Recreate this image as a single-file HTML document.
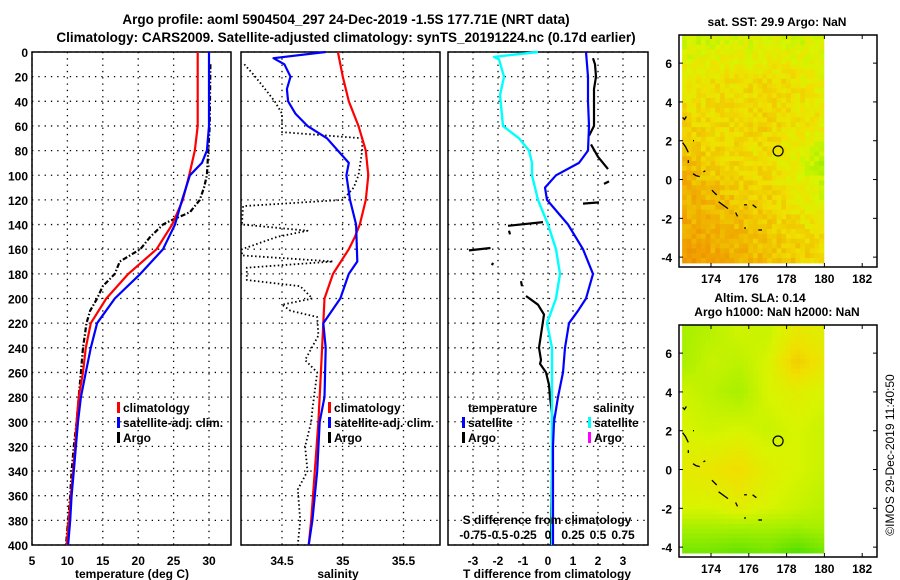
<!DOCTYPE html>
<html><head><meta charset="utf-8"><style>
html,body{margin:0;padding:0;background:#fff;}
svg{display:block;font-family:"Liberation Sans",sans-serif;}
.t{font-weight:bold;font-size:12px;}
.h{font-weight:bold;font-size:13.5px;}
</style></head><body>
<svg id="c" width="900" height="580" viewBox="0 0 900 580" xmlns="http://www.w3.org/2000/svg">
<text class="h" x="346" y="24" text-anchor="middle">Argo profile: aoml 5904504_297 24-Dec-2019 -1.5S 177.71E (NRT data)</text>
<text class="h" x="346" y="42" text-anchor="middle">Climatology: CARS2009. Satellite-adjusted climatology: synTS_20191224.nc (0.17d earlier)</text>
<text class="t" x="777" y="26" text-anchor="middle">sat. SST: 29.9 Argo: NaN</text>
<text class="t" x="760" y="302" text-anchor="middle">Altim. SLA: 0.14</text>
<text class="t" x="777" y="316" text-anchor="middle">Argo h1000: NaN h2000: NaN</text>
<text x="894" y="455" font-size="12" text-anchor="middle" transform="rotate(-90 894 455)">©IMOS 29-Dec-2019 11:40:50</text>
<g id="g"></g>
</svg>
<script>
// ---- data ----
const depthTicks=[0,20,40,60,80,100,120,140,160,180,200,220,240,260,280,300,320,340,360,380,400];
const tTicks=[5,10,15,20,25,30];
const sTicks=[34.5,35,35.5];
const dTicks=[-3,-2,-1,0,1,2,3];
const sdTickLabels=["-0.75","-0.5","-0.25","0","0.25","0.5","0.75"];
const tClimD=[0,60,80,100,120,140,160,180,200,220,240,260,280,300,320,340,360,380,400];
const tClim=[28.4,28.4,28.0,27.2,26.3,24.8,22.6,18.6,15.5,13.3,12.6,12.2,11.6,11.3,11.1,10.8,10.5,10.2,9.9];
const tSatD=[0,60,80,90,100,120,140,160,180,200,220,240,260,280,300,320,340,360,380,400];
const tSat=[30.0,30.0,29.7,29.0,27.3,26.2,25.2,23.5,20.3,16.7,14.2,13.3,12.6,11.9,11.5,11.2,10.9,10.6,10.4,10.1];
const tArgoD=[10,60,100,110,120,130,137,140,150,160,170,180,190,200,210,220,240,260,280,300,320,340,360,380,400];
const tArgo=[30.2,30.1,29.7,29.3,28.7,27.3,24.5,23.5,21.7,20.3,17.4,16.7,15.0,14.2,13.2,12.7,12.2,11.9,11.6,11.3,10.9,10.6,10.4,10.1,9.8];
const sClimD=[0,20,40,60,80,100,120,140,150,160,180,200,220,260,300,340,380,400];
const sClim=[34.96,35.0,35.05,35.13,35.19,35.21,35.19,35.14,35.1,35.05,34.92,34.85,34.84,34.82,34.8,34.77,34.74,34.72];
const sSatD=[0,5,10,20,30,40,50,60,70,80,90,100,120,140,170,180,200,220,240,280,300,340,380,400];
const sSat=[34.86,34.43,34.52,34.57,34.54,34.55,34.61,34.71,34.87,34.96,35.05,35.03,35.06,35.11,35.12,35.05,34.98,34.84,34.86,34.85,34.81,34.79,34.75,34.72];
const sArgoD=[10,20,40,50,65,70,80,100,110,120,125,140,145,150,160,165,170,175,185,190,200,205,210,215,230,250,260,290,300,320,340,355,380,400];
const sArgo=[34.19,34.28,34.44,34.5,34.5,35.16,35.16,35.13,35.09,35.0,34.18,34.17,34.71,34.46,34.17,34.17,34.92,34.21,34.21,34.65,34.75,34.5,34.57,34.79,34.8,34.69,34.79,34.75,34.74,34.69,34.71,34.63,34.65,34.63];
const dtSatD=[0,20,40,60,80,90,100,110,120,140,160,180,200,210,220,230,240,260,280,300,320,360,400];
const dtSat=[1.52,1.6,1.6,1.64,1.6,1.24,0.32,-0.12,-0.04,0.8,1.4,1.8,1.52,1.2,0.84,0.76,0.68,0.6,0.4,0.24,0.2,0.2,0.2];
const dsSatD=[0,4,6,20,35,60,70,80,90,100,120,140,160,180,200,220,240,300,400];
const dsSat=[-0.1,-0.54,-0.49,-0.44,-0.48,-0.45,-0.29,-0.19,-0.16,-0.16,-0.1,0,0.08,0.12,0.08,-0.01,0.04,0.04,0.04];
const dtArgoD=[5,10,20,30,60,68,null,75,85,95,null,105,107,null,122,123,null,138,141,null,145,148,null,159,161,null,171,173,null,186,190,null,198,205,213,240,250,253,260,270,280,300,340,400];
const dtArgo=[1.8,1.88,1.92,1.84,1.84,1.64,null,1.72,2.0,2.4,null,2.44,2.24,null,2.04,1.4,null,-0.2,-1.6,null,-1.56,-1.52,null,-2.3,-3.16,null,-2.2,-2.24,null,-1.08,-1.04,null,-0.88,-0.4,-0.16,-0.36,-0.28,-0.32,-0.08,0.04,0.08,0.2,0.16,0.12];
// maps: coarse grids (rows = lat, cols = lon), value 0 green .. 1 orange
const mapLons=[172.5,174,175.5,177,178.5,180];
const sstLats=[7,5,3,1,-1,-3,-4.5];
const sstGrid=[[0.4,0.45,0.45,0.45,0.45,0.45],[0.55,0.6,0.6,0.62,0.6,0.5],[0.65,0.62,0.62,0.66,0.6,0.55],[0.75,0.66,0.62,0.6,0.5,0.32],[0.8,0.76,0.72,0.66,0.55,0.45],[0.85,0.8,0.76,0.7,0.66,0.6],[0.9,0.85,0.8,0.76,0.7,0.66]];
const slaLats=[7,5.5,4,2,0,-2,-3,-4.5];
const slaGrid=[[0.3,0.35,0.42,0.4,0.55,0.5],[0.3,0.4,0.36,0.45,0.68,0.55],[0.42,0.36,0.3,0.45,0.5,0.45],[0.45,0.42,0.45,0.4,0.45,0.4],[0.52,0.56,0.62,0.5,0.45,0.4],[0.45,0.45,0.5,0.45,0.4,0.35],[0.3,0.3,0.3,0.3,0.28,0.3],[0.15,0.15,0.1,0.15,0.05,0.15]];
const lonTicks=[174,176,178,180,182];
const sstLatTicks=[-4,-2,0,2,4,6];
const slaLatTicks=[-4,-2,0,2,4,6];
const coast=[[[172.5,3.2],[172.6,3.1],[172.7,3.25]],[[172.5,1.9],[172.65,1.7],[172.8,1.4]],[[172.8,1.0],[172.8,0.85]],[[173.05,0.3],[173.2,0.2],[173.4,0.15]],[[173.6,0.4],[173.7,0.45]],[[174.05,-0.55],[174.3,-0.8]],[[174.4,-1.15],[174.9,-1.5]],[[175.3,-1.7],[175.4,-1.9]],[[175.75,-1.3],[175.9,-1.3]],[[176.2,-1.3],[176.4,-1.45]],[[175.75,-2.5],[175.85,-2.5]],[[176.5,-2.6],[176.7,-2.6]],[[173.05,2.0],[173.1,2.0]]];
const argoPos=[177.55,1.47];

// ---- drawing ----
const NS="http://www.w3.org/2000/svg";
const G=document.getElementById('g');
function el(tag,attrs,parent){const e=document.createElementNS(NS,tag);for(const k in attrs)e.setAttribute(k,attrs[k]);(parent||G).appendChild(e);return e;}
const Y0=52,Y1=545;
const yD=d=>Y0+(d/400)*(Y1-Y0);
function panel(name,x0,x1,xs,ticks,labels){
  const g=el('g',{});
  
  
  ticks.forEach(v=>{const l=el('line',{x1:xs(v),x2:xs(v),y1:Y0,y2:Y1,stroke:'#000','stroke-width':1.3,'stroke-dasharray':'1.3,5'},g);
    });
  depthTicks.forEach(d=>{const l=el('line',{x1:x0,x2:x1,y1:yD(d),y2:yD(d),stroke:'#000','stroke-width':1.3,'stroke-dasharray':'1.3,5'},g);
    });
  const r=el('rect',{x:x0,y:Y0,width:x1-x0,height:Y1-Y0,fill:'none',stroke:'#000','stroke-width':1.5},g);
  
  if(labels){ticks.forEach((v,i)=>{const t=el('text',{x:xs(v),y:565,'text-anchor':'middle','class':'t'},g);t.textContent=labels[i];
    });}
  return g;
}
function line(g,xs,ds,vs,color,w,dash,name){
  let segs=[],cur=[];
  ds.forEach((d,i)=>{if(d===null||vs[i]===null){if(cur.length)segs.push(cur);cur=[];}else cur.push(xs(vs[i]).toFixed(1)+','+yD(d).toFixed(1));});
  if(cur.length)segs.push(cur);
  segs.forEach(s=>{const p=el('polyline',{points:s.join(' '),fill:'none',stroke:color,'stroke-width':w,'stroke-linejoin':'round'},g);
    if(dash)p.setAttribute('stroke-dasharray',dash);
    });
}
function legend(g,x,y,items){items.forEach((it,i)=>{
  const yy=y+i*15;
  const r=el('rect',{x:x,y:yy-10,width:3,height:11,fill:it[1]},g);
  
  const t=el('text',{x:x+6,y:yy,'class':'t'},g);t.textContent=it[0];
  });}

depthTicks.forEach(d=>{const t=el('text',{x:28,y:yD(d)+5,'text-anchor':'end','class':'t'});t.textContent=d;
  });

const xT=v=>32+(v-5)*7.08;
const p1=panel('temperature-panel',32,231,xT,tTicks,tTicks.map(String));
line(p1,xT,tArgoD,tArgo,'#000',2.2,'5,2,1.5,2','argo-temperature-line');
line(p1,xT,tClimD,tClim,'#f00',2.2,null,'climatology-temperature-line');
line(p1,xT,tSatD,tSat,'#00f',2.2,null,'satellite-temperature-line');
legend(p1,117,412,[['climatology','#f00'],['satellite-adj. clim.','#00f'],['Argo','#000']]);
let tt=el('text',{x:132,y:578,'text-anchor':'middle','class':'t'});tt.textContent='temperature (deg C)';


const xS=v=>282+(v-34.5)*121.5;
const p2=panel('salinity-panel',241,440,xS,sTicks,['34.5','35','35.5']);
line(p2,xS,sArgoD,sArgo,'#000',1.8,'1.5,2.5','argo-salinity-line');
line(p2,xS,sClimD,sClim,'#f00',2.2,null,'climatology-salinity-line');
line(p2,xS,sSatD,sSat,'#00f',2.2,null,'satellite-salinity-line');
legend(p2,328,412,[['climatology','#f00'],['satellite-adj. clim.','#00f'],['Argo','#000']]);
tt=el('text',{x:338,y:578,'text-anchor':'middle','class':'t'});tt.textContent='salinity';


const xDT=v=>548+v*25;
const xDS=v=>548+v*100;
const p3=panel('difference-panel',448,648,xDT,dTicks,dTicks.map(String));
line(p3,xDT,dtArgoD,dtArgo,'#000',2.2,null,'argo-temperature-difference-line');
line(p3,xDS,dsSatD,dsSat,'#0ff',2.4,null,'satellite-salinity-difference-line');
line(p3,xDT,dtSatD,dtSat,'#00f',2.2,null,'satellite-temperature-difference-line');
tt=el('text',{x:468,y:412,'class':'t'},p3);tt.textContent='temperature';

tt=el('text',{x:593,y:412,'class':'t'},p3);tt.textContent='salinity';

legend(p3,462,427,[['satellite','#00f'],['Argo','#000']]);
legend(p3,588,427,[['satellite','#0ff'],['Argo','#f0f']]);
tt=el('text',{x:547,y:524,'text-anchor':'middle','class':'t'},p3);tt.textContent='S difference from climatology';

[-0.75,-0.5,-0.25,0,0.25,0.5,0.75].forEach((v,i)=>{const t=el('text',{x:xDS(v),y:539,'text-anchor':'middle','class':'t'},p3);t.textContent=sdTickLabels[i];
  });
tt=el('text',{x:547,y:578,'text-anchor':'middle','class':'t'});tt.textContent='T difference from climatology';


// maps
const stops=[[0,[48,216,0]],[0.3,[168,240,0]],[0.45,[216,244,0]],[0.6,[240,224,0]],[0.8,[240,176,0]],[1,[240,128,0]]];
function cmap(v){v=Math.max(0,Math.min(1,v));for(let i=1;i<stops.length;i++){if(v<=stops[i][0]){const a=stops[i-1],b=stops[i],f=(v-a[0])/(b[0]-a[0]);
  return 'rgb('+a[1].map((c,k)=>Math.round(c+(b[1][k]-c)*f)).join(',')+')';}}return 'rgb(240,128,0)';}
function interp(lats,grid,lon,lat){
  let j=0;while(j<mapLons.length-2&&lon>mapLons[j+1])j++;
  let i=0;while(i<lats.length-2&&lat<lats[i+1])i++;
  const fx=Math.max(0,Math.min(1,(lon-mapLons[j])/(mapLons[j+1]-mapLons[j])));
  const fy=Math.max(0,Math.min(1,(lat-lats[i])/(lats[i+1]-lats[i])));
  const a=grid[i][j]*(1-fx)+grid[i][j+1]*fx,b=grid[i+1][j]*(1-fx)+grid[i+1][j+1]*fx;
  return a*(1-fy)+b*fy;
}
function mapPanel(name,top,lats,grid,latTicks,texture){
  const bot=top+232, L=679, R=877;
  const xL=lon=>711+(lon-174)*18.9;
  const yL=lat=>top+(7.45-lat)*19.4;
  const g=el('g',{});
  
  const cw=0.25,ch=0.25,lon0=172.47,nc=30,nr=47;
  for(let r=0;r<nr;r++){for(let c=0;c<nc;c++){
    const lon=lon0+c*cw, lat=7.45-r*ch;
    let v=interp(lats,grid,lon+cw/2,lat-ch/2);
    if(texture){const h=((Math.imul(r+3,73856093)^Math.imul(c+7,19349663))>>>0)%101;v+=(h/101-0.5)*0.16;}
    const y1=yL(lat),y2=Math.min(yL(lat-ch),bot-2);
    const rc=el('rect',{x:xL(lon).toFixed(1),y:y1.toFixed(1),width:(cw*18.9+0.5).toFixed(1),height:(y2-y1+0.5).toFixed(1),fill:cmap(v)},g);
    
  }}
  coast.forEach(c=>{const p=el('polyline',{points:c.map(q=>xL(q[0]).toFixed(1)+','+yL(q[1]).toFixed(1)).join(' '),fill:'none',stroke:'#000','stroke-width':1.3},g);
    });
  const c=el('circle',{cx:xL(argoPos[0]),cy:yL(argoPos[1]),r:5,fill:'none',stroke:'#000','stroke-width':1.2},g);
  
  const fr=el('rect',{x:L,y:top,width:R-L,height:bot-top,fill:'none',stroke:'#000','stroke-width':1.5},g);
  
  lonTicks.forEach(v=>{const x=xL(v);
    el('line',{x1:x,x2:x,y1:top,y2:top+4,stroke:'#000'},g);el('line',{x1:x,x2:x,y1:bot,y2:bot-4,stroke:'#000'},g);
    const t=el('text',{x:x,y:bot+16,'text-anchor':'middle','class':'t'},g);t.textContent=v;
    });
  latTicks.forEach(v=>{const y=yL(v);
    el('line',{x1:L,x2:L+4,y1:y,y2:y,stroke:'#000'},g);el('line',{x1:R,x2:R-4,y1:y,y2:y,stroke:'#000'},g);
    const t=el('text',{x:L-7,y:y+5,'text-anchor':'end','class':'t'},g);t.textContent=v;
    });
}
mapPanel('sst-map',35,sstLats,sstGrid,sstLatTicks,true);
mapPanel('sla-map',325,slaLats,slaGrid,slaLatTicks,false);
</script>
</body></html>
